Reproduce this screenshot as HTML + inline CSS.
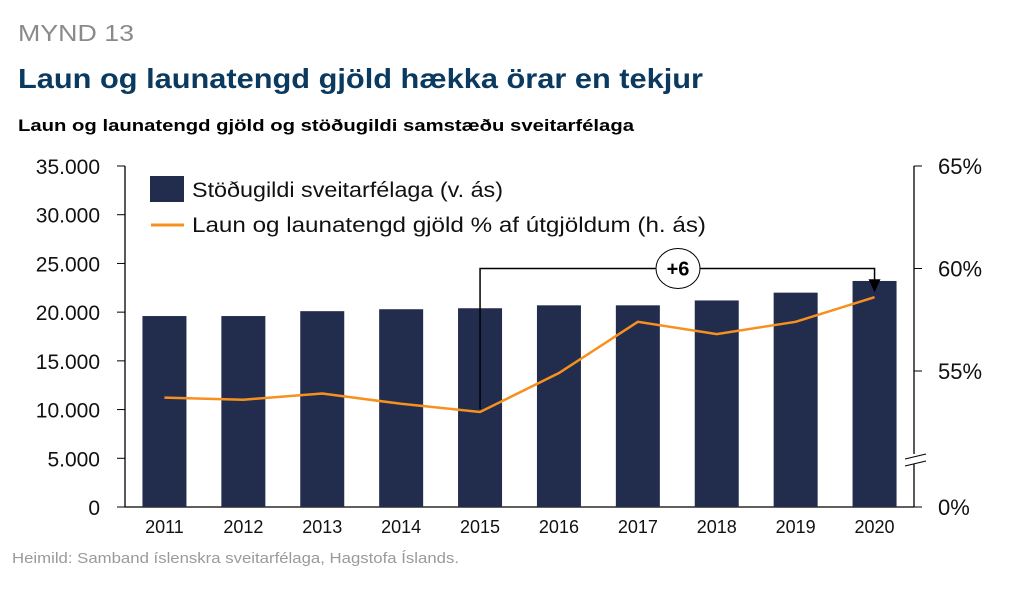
<!DOCTYPE html>
<html><head><meta charset="utf-8"><style>
body{margin:0;background:#fff;font-family:"Liberation Sans",sans-serif;}
</style></head><body>
<svg width="1015" height="590" viewBox="0 0 1015 590" xmlns="http://www.w3.org/2000/svg" font-family="Liberation Sans, sans-serif">
<text x="18" y="41" font-size="23" fill="#8a8a8a" textLength="116" lengthAdjust="spacingAndGlyphs">MYND 13</text>
<text x="18" y="88" font-size="28" font-weight="bold" fill="#0b3a60" textLength="685" lengthAdjust="spacingAndGlyphs">Laun og launatengd gjöld hækka örar en tekjur</text>
<text x="18" y="131" font-size="17" font-weight="bold" fill="#000" textLength="616" lengthAdjust="spacingAndGlyphs">Laun og launatengd gjöld og stöðugildi samstæðu sveitarfélaga</text>
<text x="12" y="563" font-size="15" fill="#9a9a9a" textLength="447" lengthAdjust="spacingAndGlyphs">Heimild: Samband íslenskra sveitarfélaga, Hagstofa Íslands.</text>
<g id="axes"></g><g id="bars"></g><g id="line"></g><g id="annot"></g>
<g>
<rect x="150" y="176" width="34" height="26" fill="#222d4e"/>
<text x="192" y="197" font-size="21" fill="#111" textLength="311" lengthAdjust="spacingAndGlyphs">Stöðugildi sveitarfélaga (v. ás)</text>
<line x1="151" y1="225" x2="184" y2="225" stroke="#f7901e" stroke-width="3"/>
<text x="192" y="232" font-size="21" fill="#111" textLength="514" lengthAdjust="spacingAndGlyphs">Laun og launatengd gjöld % af útgjöldum (h. ás)</text>
</g>
</svg>
<script>
const years=["2011","2012","2013","2014","2015","2016","2017","2018","2019","2020"];
const staff=[19600,19600,20100,20300,20400,20700,20700,21200,22000,23200];
const wagePct=[53.7,53.6,53.9,53.4,53.0,54.9,57.4,56.8,57.4,58.6];
const leftTicks=[0,5000,10000,15000,20000,25000,30000,35000];
const rightTicks=[55,60,65];
const NS="http://www.w3.org/2000/svg";
const X0=125,X1=914,Y0=507,Ytop=166;
const slot=(X1-X0)/years.length;
const xC=i=>X0+slot*(i+0.5);
const yL=v=>Y0-(v/35000)*(Y0-Ytop);
const yR=p=>Ytop+(65-p)*20.5;
function mk(tag,attrs,parent,txt){const e=document.createElementNS(NS,tag);for(const k in attrs)e.setAttribute(k,attrs[k]);if(txt!==undefined)e.textContent=txt;document.getElementById(parent).appendChild(e);return e;}
const fmt=v=>v.toLocaleString('de-DE');
let e;
e=mk('line',{x1:X0,y1:Ytop,x2:X0,y2:Y0,stroke:'#000','stroke-width':1.3},'axes');


e=mk('line',{x1:X1,y1:Ytop,x2:X1,y2:Y0,stroke:'#000','stroke-width':1.3},'axes');


e=mk('line',{x1:X0,y1:Y0,x2:X1,y2:Y0,stroke:'#000','stroke-width':1.3},'axes');


leftTicks.forEach(v=>{const y=yL(v);
 e=mk('line',{x1:117,y1:y,x2:X0,y2:y,stroke:'#000'},'axes');
 
 
 e=mk('text',{x:100,y:y+8,'font-size':21,'text-anchor':'end',fill:'#111'},'axes',fmt(v));
 
 
});
rightTicks.forEach(v=>{const y=yR(v);
 e=mk('line',{x1:X1,y1:y,x2:922,y2:y,stroke:'#000'},'axes');
 
 
 e=mk('text',{x:938,y:y+8,'font-size':22,fill:'#111'},'axes',v+'%');
 
 
});
e=mk('line',{x1:X1,y1:Y0,x2:922,y2:Y0,stroke:'#000'},'axes');


e=mk('text',{x:938,y:Y0+8,'font-size':22,fill:'#111'},'axes','0%');


e=mk('rect',{x:904,y:454,width:20,height:10,fill:'#fff'},'axes');


e=mk('path',{d:'M905 459 L926 454 M905 466 L926 461',stroke:'#000',fill:'none'},'axes');


years.forEach((yr,i)=>{
 const y=yL(staff[i]);
 e=mk('rect',{x:xC(i)-22,y:y,width:44,height:Y0-y,fill:'#222d4e'},'bars');
 
 
 e=mk('text',{x:xC(i),y:533,'font-size':18,'text-anchor':'middle',fill:'#111'},'axes',yr);
 
 
});
const pts=wagePct.map((p,i)=>xC(i)+','+yR(p)).join(' ');
e=mk('polyline',{points:pts,fill:'none',stroke:'#f7901e','stroke-width':2.5},'line');


const i1=4,i2=9,ay=yR(60);
e=mk('path',{d:`M${xC(i1)} ${yR(wagePct[i1])-3} L${xC(i1)} ${ay} L${xC(i2)} ${ay} L${xC(i2)} ${yR(wagePct[i2])-16}`,fill:'none',stroke:'#000','stroke-width':1.5},'annot');


const ax=xC(i2),ayb=yR(wagePct[i2])-5;
e=mk('path',{d:`M${ax-6} ${ayb-13} L${ax+6} ${ayb-13} L${ax} ${ayb} Z`,fill:'#000'},'annot');


e=mk('ellipse',{cx:678,cy:ay,rx:22,ry:20,fill:'#fff',stroke:'#000'},'annot');


e=mk('text',{x:678,y:ay+7,'font-size':20,'font-weight':'bold','text-anchor':'middle'},'annot','+6');


</script>
</body></html>
